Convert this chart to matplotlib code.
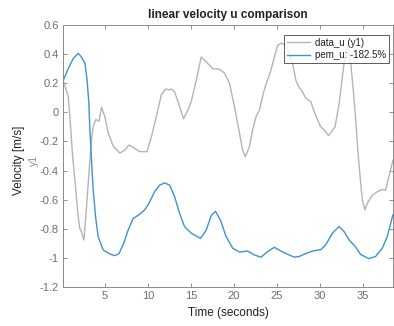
import matplotlib
matplotlib.use("Agg")
import matplotlib.pyplot as plt
import numpy as np

t_data = [0.13, 0.71, 0.9, 1.22, 1.48, 1.87, 2.06, 2.18, 2.53, 2.84, 3.14, 3.42, 3.6, 3.92,
          4.3, 4.58, 4.97, 5.35, 5.93, 6.7, 7.29, 7.78, 8.45, 9.03, 9.87, 10.38, 10.96,
          11.54, 12.04, 12.5, 12.7, 13.09, 13.67, 14.13, 14.63, 15.02, 15.6, 16.18, 16.76,
          17.53, 18.3, 18.89, 19.47, 20.05, 20.63, 21.0, 21.32, 21.79, 22.17, 22.56, 22.95,
          23.52, 24.3, 24.69, 25.07, 25.46, 26.04, 26.81, 27.2, 27.59, 27.97, 28.36, 28.94,
          29.33, 29.71, 30.1, 30.49, 30.99, 31.38, 31.76, 32.23, 32.61, 32.81, 33.16, 33.58,
          33.85, 34.16, 34.43, 34.74, 34.93, 35.24, 35.51, 36.09, 36.67, 37.25, 37.64,
          38.03, 38.49]
u_data = [0.22, 0.107, -0.03, -0.30, -0.465, -0.717, -0.80, -0.81, -0.877, -0.65, -0.40,
          -0.19, -0.10, -0.05, -0.06, 0.035, -0.03, -0.14, -0.23, -0.28, -0.26, -0.224,
          -0.247, -0.27, -0.27, -0.17, -0.03, 0.12, 0.16, 0.155, 0.16, 0.14, 0.04, -0.045,
          0.016, 0.073, 0.22, 0.38, 0.348, 0.30, 0.296, 0.27, 0.20, 0.04, -0.14, -0.26,
          -0.305, -0.236, -0.12, -0.03, 0.016, 0.155, 0.29, 0.38, 0.46, 0.474, 0.466,
          0.337, 0.22, 0.17, 0.14, 0.097, 0.073, 0.004, -0.05, -0.1, -0.12, -0.16, -0.13,
          -0.1, 0.06, 0.245, 0.34, 0.46, 0.337, 0.17, -0.05, -0.28, -0.487, -0.60, -0.67,
          -0.625, -0.57, -0.545, -0.53, -0.535, -0.44, -0.33]

# model output (blue)
t_pem = [0.13, 0.71, 1.29, 1.87, 2.26, 2.65, 2.91, 3.11, 3.23, 3.42, 3.61, 3.89, 4.19,
         4.77, 5.55, 6.13, 6.62, 7.17, 7.67, 8.25, 9.03, 9.61, 10.1, 10.77, 11.35, 11.93,
         12.51, 13.09, 13.67, 14.24, 15.02, 16.1, 16.76, 17.34, 17.84, 18.42, 19.08,
         19.85, 20.63, 21.59, 22.37, 23.14, 23.91, 24.69, 25.46, 26.04, 27.0, 27.59,
         28.36, 29.13, 30.1, 30.68, 31.45, 32.23, 32.81, 33.39, 34.08, 34.74, 35.7,
         36.48, 37.25, 37.83, 38.49]
u_pem = [0.22, 0.30, 0.37, 0.405, 0.38, 0.337, 0.22, 0.06, -0.12, -0.33, -0.53, -0.717,
         -0.854, -0.945, -0.973, -0.985, -0.97, -0.9, -0.81, -0.73, -0.70, -0.67, -0.625,
         -0.545, -0.5, -0.485, -0.5, -0.58, -0.695, -0.785, -0.83, -0.866, -0.81, -0.71,
         -0.68, -0.74, -0.854, -0.934, -0.96, -0.953, -0.98, -0.995, -0.957, -0.927,
         -0.953, -0.97, -0.995, -0.99, -0.97, -0.953, -0.943, -0.91, -0.83, -0.785,
         -0.82, -0.877, -0.92, -0.977, -1.005, -0.99, -0.934, -0.854, -0.704]

x_ticks = [5, 10, 15, 20, 25, 30, 35]
y_ticks = [-1.2, -1, -0.8, -0.6, -0.4, -0.2, 0, 0.2, 0.4, 0.6]

plt.rcParams["font.family"] = ["Liberation Sans", "DejaVu Sans"]
plt.rcParams["axes.unicode_minus"] = False

W, H = 394, 326
fig = plt.figure(figsize=(W / 100, H / 100), dpi=100)
ax = fig.add_axes([63 / W, 1 - 287 / H, 330 / W, 262 / H])

ax.plot(t_data, u_data, color="#b4b4b4", lw=1.0, label="data_u (y1)")
ax.plot(t_pem, u_pem, color="#3d92d4", lw=1.0, label="pem_u: -182.5%")

ax.set_xlim(0.1, 38.5)
ax.set_ylim(-1.2, 0.6)
ax.set_xticks(x_ticks)
ax.set_yticks(y_ticks)
ax.set_yticklabels(["%g" % v for v in y_ticks])
ax.tick_params(direction="in", length=3, width=0.6, colors="#808080",
               labelcolor="#6e6e6e", labelsize=8, top=True, right=True, pad=3)
for s in ax.spines.values():
    s.set_color("#8a8a8a")
    s.set_linewidth(0.7)

ax.set_title("linear velocity u comparison", fontsize=8.5, fontweight="bold",
             color="#222222", pad=5)
fig.text(228 / W, 1 - 313 / H, "Time (seconds)", fontsize=8.5, color="#222222",
         ha="center", va="center")
fig.text(19 / W, 1 - 160 / H, "Velocity [m/s]", fontsize=8.5, color="#222222",
         rotation=90, ha="center", va="center")
fig.text(34 / W, 1 - 160 / H, "y1", fontsize=7.5, color="#8a8a8a",
         rotation=90, ha="center", va="center")

leg = ax.legend(loc="upper right", bbox_to_anchor=(0.988, 0.962), fontsize=7,
                frameon=True, fancybox=False, handlelength=2.4, borderpad=0.3,
                labelspacing=0.25, handletextpad=0.5, borderaxespad=0)
leg.get_frame().set_edgecolor("#333333")
leg.get_frame().set_linewidth(0.7)
for txt in leg.get_texts():
    txt.set_color("#222222")

fig.savefig("out.png", dpi=100)
